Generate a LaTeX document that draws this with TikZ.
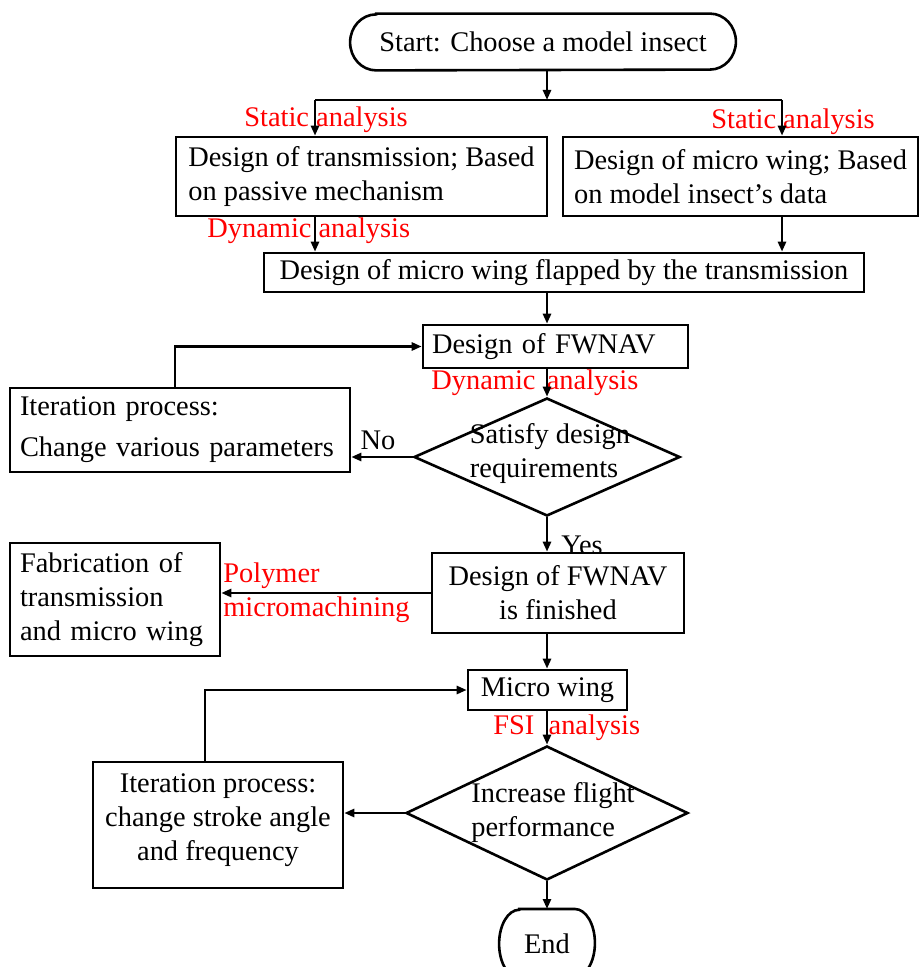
\documentclass[tikz,border=0pt]{standalone}
\usepackage{fontspec}
\setmainfont{Liberation Serif}
\usetikzlibrary{arrows.meta,shapes.geometric}
\begin{document}
\begin{tikzpicture}[x=0.5pt,y=-0.5pt,
  every node/.style={font=\fontsize{14.2}{17}\selectfont},
  box/.style={draw, line width=1.3pt, inner sep=0pt},
  frame/.style={inner sep=0pt},
  dia/.style={draw, diamond, line width=1.3pt, inner sep=0pt},
  txt/.style={inner sep=0pt},
  lbl/.style={text=red, inner sep=0pt},
  ln/.style={line width=1.3pt},
  arr/.style={line width=1.3pt, -{Triangle[length=5pt,width=4pt]}}]
\clip (0,0) rectangle (920,967);
\fill[white] (0,0) rectangle (920,967);

% vertical spine and junction points
\coordinate (sp) at (547,0);
\coordinate (busL) at (315,100);
\coordinate (busR) at (782,100);
\coordinate (lp1) at (175,0);
\coordinate (lp2) at (205,0);

% start terminal
\node[frame, minimum width=192.5pt, minimum height=28pt] (start) at (543,42) {Start: Choose a model insect};
\draw[ln] ([xshift=13pt]start.north west) -- ([xshift=-13pt]start.north east)
  arc[start angle=90,end angle=-90,x radius=13pt,y radius=14pt]
  -- ([xshift=13pt]start.south west)
  arc[start angle=270,end angle=90,x radius=13pt,y radius=14pt] -- cycle;

% design boxes
\node[box, minimum width=185.5pt, minimum height=39.5pt, align=left] (trans) at (361.5,176.5)
  {Design of transmission; Based\\on passive mechanism};
\node[box, minimum width=177.5pt, minimum height=39.5pt, align=left] (wingd) at (740.5,176.5)
  {Design of micro wing; Based\\on model insect’s data};
\node[box, minimum width=300pt, minimum height=19.5pt] (flap) at (564,272.5)
  {Design of micro wing flapped by the transmission};
\node[box, minimum width=132.5pt, minimum height=21.5pt, text width=123.5pt, align=left] (fwnav) at (555.5,346.5)
  {Design of FWNAV};

% first check
\node[dia, minimum width=133pt, minimum height=59pt] (sat) at (547,457) {};
\node[txt, align=left] (satt) at (550,454) {Satisfy design\\requirements};
\node[box, minimum width=170pt, minimum height=42pt, text width=160pt, align=left] (iter1) at (180,430)
  {Iteration process:\\[3.5pt]Change various parameters};

% finished design and fabrication
\node[txt] (yes) at (582,545) {Yes};
\node[box, fill=white, minimum width=126pt, minimum height=40pt, align=center] (fin) at (558,593)
  {Design of FWNAV\\is finished};
\node[box, minimum width=105pt, minimum height=56.5pt, text width=95pt, align=left] (fab) at (115,599.5)
  {Fabrication of\\transmission\\and micro wing};

% wing optimisation loop
\node[box, minimum width=79.5pt, minimum height=20pt] (micro) at (547.5,690) {Micro wing};
\node[dia, minimum width=141pt, minimum height=67pt] (inc) at (547,813) {};
\node[txt, align=left] (inct) at (553,813) {Increase flight\\performance};
\node[box, minimum width=125pt, minimum height=63pt, align=center] (iter2) at (218,825)
  {Iteration process:\\change stroke angle\\and frequency\\[-9pt]};

% end terminal
\node[frame, anchor=north, minimum width=47.5pt, minimum height=34pt] (end) at (547,909) {End};
\draw[ln] ([xshift=10pt]end.north west) -- ([xshift=-10pt]end.north east)
  arc[start angle=90,end angle=-90,x radius=10pt,y radius=17pt]
  -- ([xshift=10pt]end.south west)
  arc[start angle=270,end angle=90,x radius=10pt,y radius=17pt] -- cycle;

% red analysis labels
\node[lbl, anchor=west] (sa1) at (244,120) {Static analysis};
\node[lbl, anchor=west] (sa2) at (711,122) {Static analysis};
\node[lbl, anchor=west] (da1) at (207,231) {Dynamic analysis};
\node[lbl, anchor=west] (da2) at (431,383) {Dynamic\hspace{0.4em}analysis};
\node[lbl, anchor=west, align=left] (pm) at (223,593) {Polymer\\micromachining};
\node[lbl, anchor=west] (fsi) at (493,728) {FSI\ \ analysis};
\node[txt] (no) at (378,440) {No};

% connectors
\draw[arr] (sp |- start.south) -- (sp |- busL);
\draw[ln] (busL) -- (busR);
\draw[arr] (busL) -- (busL |- trans.north);
\draw[arr] (busR) -- (busR |- wingd.north);
\draw[arr] (busL |- trans.south) -- (busL |- flap.north);
\draw[arr] (busR |- wingd.south) -- (busR |- flap.north);
\draw[arr] (sp |- flap.south) -- (sp |- fwnav.north);
\draw[arr] (sp |- fwnav.south) -- (sat.north);
\draw[arr] (sat.west) -- (sat.west -| iter1.east);
\draw[arr] (iter1.north -| lp1) |- (fwnav.west);
\draw[arr] (sat.south) -- (sp |- fin.north);
\draw[arr] (fin.west) -- (fin.west -| fab.east);
\draw[arr] (sp |- fin.south) -- (sp |- micro.north);
\draw[arr] (sp |- micro.south) -- (inc.north);
\draw[arr] (inc.west) -- (inc.west -| iter2.east);
\draw[arr] (iter2.north -| lp2) |- (micro.west);
\draw[arr] (inc.south) -- (end.north);
\end{tikzpicture}
\end{document}
